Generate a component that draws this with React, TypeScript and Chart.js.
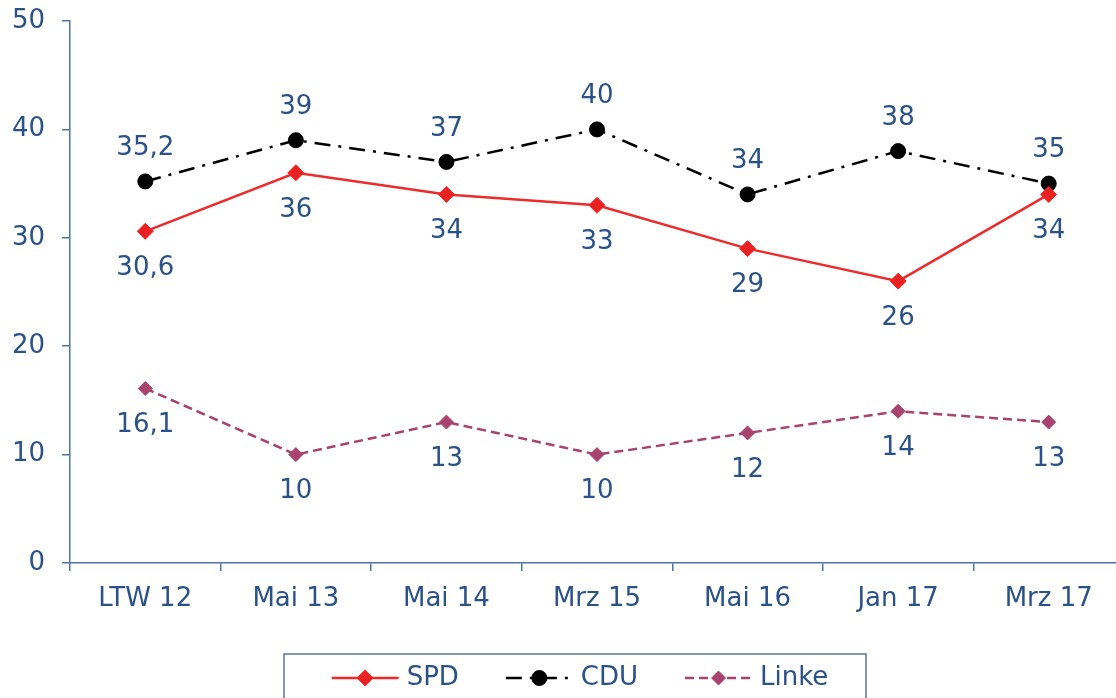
import React, { useEffect, useRef } from "react";
import { Chart, registerables } from "chart.js";

Chart.register(...registerables);

const categories = ["LTW 12", "Mai 13", "Mai 14", "Mrz 15", "Mai 16", "Jan 17", "Mrz 17"];
const spdValues = [30.6, 36, 34, 33, 29, 26, 34];
const cduValues = [35.2, 39, 37, 40, 34, 38, 35];
const linkeValues = [16.1, 10, 13, 10, 12, 14, 13];
const seriesNames = ["SPD", "CDU", "Linke"];

const TEXT = "#2B5288";
const AXIS = "#4D74A3";
const FONT = "'DejaVu Sans', Verdana, sans-serif";

const fmt = (v: number) => String(v).replace(".", ",");

const labelPlugin = {
  id: "valueLabels",
  afterDatasetsDraw(chart: any) {
    const ctx = chart.ctx;
    ctx.save();
    ctx.font = `26px ${FONT}`;
    ctx.fillStyle = TEXT;
    ctx.textAlign = "center";
    ctx.textBaseline = "middle";
    chart.data.datasets.forEach((ds: any, i: number) => {
      const meta = chart.getDatasetMeta(i);
      meta.data.forEach((pt: any, j: number) => {
        const off = ds.labelPos === "above" ? -33 : 37;
        ctx.fillText(fmt(ds.data[j]), pt.x, pt.y + off);
      });
    });
    ctx.restore();
  },
};

const legendPlugin = {
  id: "customLegend",
  afterDraw(chart: any) {
    const ctx = chart.ctx;
    ctx.save();
    ctx.strokeStyle = "#5A7598";
    ctx.lineWidth = 1.5;
    ctx.strokeRect(284, 654, 582, 60);
    ctx.font = `26px ${FONT}`;
    const sampleLen = 67;
    const textGap = 8;
    const itemGap = 47;
    const dss = chart.data.datasets;
    const widths = dss.map((d: any) => sampleLen + textGap + ctx.measureText(d.label).width);
    const total = widths.reduce((a: number, b: number) => a + b, 0) + itemGap * (dss.length - 1);
    let x = 580 - total / 2;
    const y = 678;
    dss.forEach((d: any, i: number) => {
      ctx.save();
      ctx.strokeStyle = d.borderColor;
      ctx.lineWidth = d.borderWidth;
      ctx.setLineDash(d.borderDash || []);
      ctx.beginPath();
      ctx.moveTo(x, y);
      ctx.lineTo(x + sampleLen, y);
      ctx.stroke();
      ctx.setLineDash([]);
      const cx = x + sampleLen / 2;
      const r = d.pointRadius;
      ctx.fillStyle = d.pointBackgroundColor;
      ctx.strokeStyle = d.pointBorderColor;
      ctx.lineWidth = 1;
      ctx.beginPath();
      if (d.pointStyle === "circle") {
        ctx.arc(cx, y, r, 0, Math.PI * 2);
      } else {
        ctx.moveTo(cx, y - r);
        ctx.lineTo(cx + r, y);
        ctx.lineTo(cx, y + r);
        ctx.lineTo(cx - r, y);
        ctx.closePath();
      }
      ctx.fill();
      ctx.stroke();
      ctx.restore();
      ctx.fillStyle = TEXT;
      ctx.textAlign = "left";
      ctx.textBaseline = "middle";
      ctx.fillText(d.label, x + sampleLen + textGap, y);
      x += widths[i] + itemGap;
    });
    ctx.restore();
  },
};

export default function App() {
  const ref = useRef<HTMLCanvasElement>(null);
  useEffect(() => {
    if (!ref.current) return;
    const chart = new Chart(ref.current, {
      type: "line",
      data: {
        labels: categories,
        datasets: [
          {
            label: seriesNames[0],
            data: spdValues,
            borderColor: "#EE2A2A",
            backgroundColor: "#EE2A2A",
            borderWidth: 2.5,
            pointStyle: "rectRot",
            pointRadius: 8,
            pointBackgroundColor: "#E82222",
            pointBorderColor: "#FF2020",
            pointBorderWidth: 1,
            labelPos: "below",
          } as any,
          {
            label: seriesNames[1],
            data: cduValues,
            borderColor: "#000000",
            backgroundColor: "#000000",
            borderWidth: 2.5,
            borderDash: [16, 8, 3, 8],
            pointStyle: "circle",
            pointRadius: 7.5,
            pointBackgroundColor: "#000000",
            pointBorderColor: "#000000",
            pointBorderWidth: 1,
            labelPos: "above",
          } as any,
          {
            label: seriesNames[2],
            data: linkeValues,
            borderColor: "#A8426F",
            backgroundColor: "#A8426F",
            borderWidth: 2.5,
            borderDash: [9, 5],
            pointStyle: "rectRot",
            pointRadius: 7,
            pointBackgroundColor: "#A8426F",
            pointBorderColor: "#A8426F",
            pointBorderWidth: 1,
            labelPos: "below",
          } as any,
        ],
      },
      options: {
        animation: false,
        responsive: true,
        maintainAspectRatio: false,
        layout: { padding: { top: 21, left: 0, right: 0, bottom: 0 } },
        plugins: { legend: { display: false }, tooltip: { enabled: false } },
        scales: {
          x: {
            offset: true,
            grid: { offset: true, drawOnChartArea: false, drawTicks: true, tickLength: 8, color: AXIS, lineWidth: 1.5 },
            border: { display: true, color: AXIS, width: 1.5 },
            ticks: { color: TEXT, font: { family: FONT, size: 26 }, padding: 13, maxRotation: 0 },
            afterFit: (s: any) => { s.height = 135; s.paddingLeft = 0; s.paddingRight = 0; },
          },
          y: {
            min: 0,
            max: 50,
            grid: { drawOnChartArea: false, drawTicks: true, tickLength: 8, color: AXIS, lineWidth: 1.5 },
            border: { display: true, color: AXIS, width: 1.5 },
            ticks: { stepSize: 10, color: TEXT, font: { family: FONT, size: 26 }, padding: 17 },
            afterFit: (s: any) => { s.width = 70; s.paddingTop = 0; s.paddingBottom = 0; },
          },
        },
      },
      plugins: [labelPlugin, legendPlugin],
    });
    return () => chart.destroy();
  }, []);
  return (
    <div style={{ position: "absolute", left: 0, top: 0, width: 1116, height: 698, overflow: "hidden", background: "#fff" }}>
      <div style={{ position: "relative", width: 1133, height: 698 }}>
        <canvas ref={ref} />
      </div>
    </div>
  );
}
